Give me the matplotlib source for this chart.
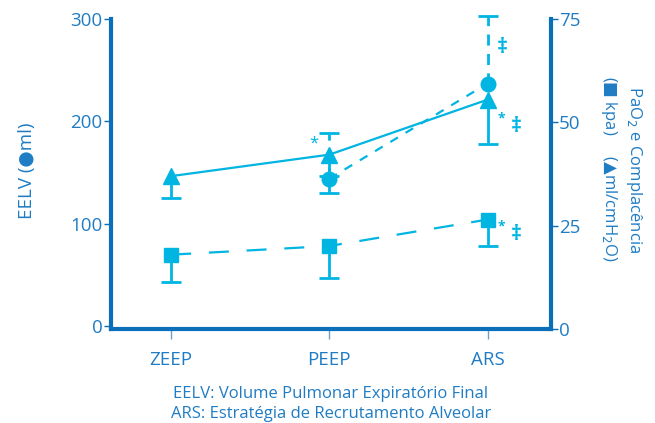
import numpy as np
import matplotlib.pyplot as plt

plt.rcParams['font.family'] = ['Open Sans', 'DejaVu Sans']

fases = ["ZEEP", "PEEP", "ARS"]
x = np.arange(len(fases))

# EELV (ml) - circulos, eixo esquerdo (so PEEP e ARS)
eelv_x = [1, 2]
eelv = [144, 237]
eelv_inf = [130]
eelv_sup = [189, 303]

# Complacencia (ml/cmH2O) - triangulos, eixo direito
compl = [37, 42.2, 55.5]
compl_inf = [31.8, 37, 44.7]

# PaO2 (kpa) - quadrados, eixo direito
pao2 = [18.0, 20.1, 26.5]
pao2_inf = [11.4, 12.4, 20.2]

c = "#00b5e2"
azul = "#0a6fb8"
txt = "#1f7cc4"


def barra(a, xs, ys, baixo, cima, ls="-"):
    # barra de erro com cap so na ponta que tem erro
    eb = a.errorbar(xs, ys, yerr=[baixo, cima], fmt="none", ecolor=c,
                    elinewidth=2, capsize=7, capthick=2)
    if np.all(np.array(cima) == 0):
        eb[1][1].set_visible(False)
    if np.all(np.array(baixo) == 0):
        eb[1][0].set_visible(False)
    eb[2][0].set_linestyle(ls)
    for art in list(eb[1]) + list(eb[2]):
        art.set_clip_on(False)
    return eb


fig = plt.figure(figsize=(6.55, 4.23), dpi=100)
ax = fig.add_axes([0.1695, 0.222, 0.6715, 0.733])
ax2 = ax.twinx()

ax.set_xlim(-0.38, 2.40)
ax.set_ylim(-3, 300)
ax2.set_ylim(0, 75)

# circulos
ax.plot(eelv_x, eelv, ls=(0, (4, 4)), color=c, lw=1.6, marker="o", ms=10.5, zorder=5)
barra(ax, [1], [eelv[0]], [eelv[0] - eelv_inf[0]], [0])
barra(ax, eelv_x, eelv, [0, 0], np.array(eelv_sup) - np.array(eelv), ls=(0, (4, 3)))

# triangulos
ax2.plot(x, compl, color=c, lw=1.6, marker="^", ms=11.5, zorder=5)
barra(ax2, x, compl, np.array(compl) - np.array(compl_inf), [0, 0, 0])

# quadrados
ax2.plot(x, pao2, ls=(0, (9, 8)), color=c, lw=1.6, marker="s", ms=10.5, zorder=5)
barra(ax2, x, pao2, np.array(pao2) - np.array(pao2_inf), [0, 0, 0])

# marcas de significancia
ax2.text(0.905, 44.8, "*", color=c, fontsize=12, ha="center", va="center")
ax2.text(2.095, 68, "‡", color=c, fontsize=15, ha="center", va="center", fontweight="bold")
ax2.text(2.09, 51.0, "*", color=c, fontsize=10, ha="center", va="center", fontweight="bold")
ax2.text(2.18, 49.0, "‡", color=c, fontsize=15, ha="center", va="center", fontweight="bold")
ax2.text(2.09, 24.8, "*", color=c, fontsize=10, ha="center", va="center", fontweight="bold")
ax2.text(2.18, 23.0, "‡", color=c, fontsize=15, ha="center", va="center", fontweight="bold")

for a in (ax, ax2):
    a.spines["top"].set_visible(False)
    for s in ("left", "right", "bottom"):
        a.spines[s].set_color(azul)
        a.spines[s].set_linewidth(3)
ax.spines["right"].set_visible(False)
ax2.spines["left"].set_visible(False)
ax2.spines["bottom"].set_visible(False)

ax.set_xticks(x)
ax.set_xticklabels(fases, fontsize=13.5, color=txt)
ax.tick_params(axis="x", length=7, width=1, color="#6a9fd0", pad=9)
ax.set_yticks([0, 100, 200, 300])
ax.tick_params(axis="y", length=5, width=1, color=azul, labelcolor=txt, labelsize=13.5, pad=1)
ax2.set_yticks([0, 25, 50, 75])
ax2.tick_params(axis="y", length=5, width=1, color=azul, labelcolor=txt, labelsize=13.5, pad=1)

ax.set_ylabel("EELV (●ml)", fontsize=13.5, color=txt)
ax.yaxis.set_label_coords(-0.17, 0.51)
fig.text(0.968, 0.6, "PaO$_2$ e Complacência", rotation=-90, fontsize=12,
         color=txt, ha="center", va="center")
fig.text(0.930, 0.6, "($■$ kpa)     ($▲$ml/cmH$_2$O)", rotation=-90,
         fontsize=12, color=txt, ha="center", va="center")

fig.text(0.505, 0.068, "EELV: Volume Pulmonar Expiratório Final", fontsize=12,
         color=txt, ha="center", va="center")
fig.text(0.505, 0.022, "ARS: Estratégia de Recrutamento Alveolar", fontsize=12,
         color=txt, ha="center", va="center")

fig.savefig("out.png", dpi=100)
